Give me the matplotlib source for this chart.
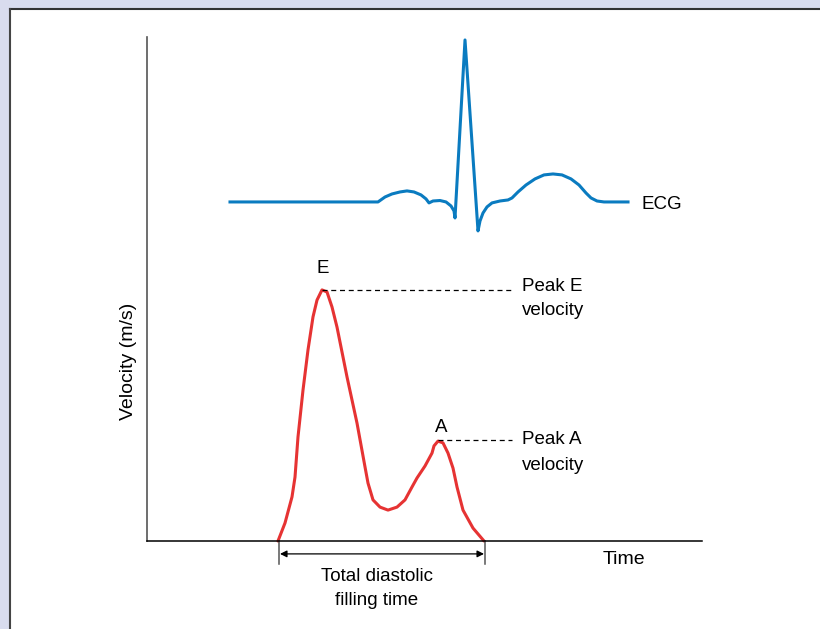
import matplotlib
matplotlib.use("Agg")
import matplotlib.pyplot as plt
from matplotlib.patches import Rectangle
from matplotlib.lines import Line2D

plt.rcParams['font.family'] = ['Liberation Sans', 'DejaVu Sans']

# transmitral Doppler velocity (time in ms, velocity in m/s)
vel_t = [131, 138, 145, 148, 151, 156, 161, 166, 170, 175, 180, 185, 190, 200,
         210, 218, 221, 226, 233, 241, 250, 258, 265, 270, 278, 285, 287, 291,
         296, 301, 306, 310, 316, 326, 337]
vel_v = [0.0, 0.06, 0.147, 0.213, 0.347, 0.503, 0.637, 0.747, 0.803, 0.837,
         0.83, 0.78, 0.713, 0.547, 0.393, 0.247, 0.193, 0.137, 0.113, 0.103,
         0.113, 0.137, 0.18, 0.21, 0.25, 0.293, 0.317, 0.333, 0.327, 0.293,
         0.243, 0.18, 0.103, 0.043, 0.0]

# ECG trace (time in ms, mV)
ecg_t = [83, 231, 238, 245, 253, 260, 267, 274, 279, 282, 286, 293, 299, 304,
         307, 308, 318, 331, 333, 336, 340, 345, 353, 361, 365, 371, 379, 388,
         397, 406, 415, 424, 432, 439, 444, 450, 457, 481]
ecg_mv = [0, 0, 0.031, 0.05, 0.0625, 0.069, 0.0625, 0.044, 0.019, -0.006,
          0.006, 0.009, 0, -0.025, -0.056, -0.1, 1.0125, -0.181, -0.119,
          -0.069, -0.031, -0.006, 0.006, 0.0125, 0.025, 0.0625, 0.106, 0.144,
          0.169, 0.175, 0.169, 0.144, 0.106, 0.056, 0.025, 0.006, 0.0, 0.0]

peak_e = (175, 0.837)
peak_a = (291, 0.333)
filling_start, filling_end = 132, 338

# 8.2 * 100 rounds down to 819 px, so nudge the size
fig = plt.figure(figsize=(8.2001, 6.2901), dpi=100, facecolor='#D9DCEE')
# white panel running off the right and bottom of the picture
px, py = 10 / 820, 1 - 9 / 629
fig.patches.append(Rectangle((px, 0), 1 - px, py, transform=fig.transFigure,
                             facecolor='white', edgecolor='none', zorder=-5))
fig.lines.append(Line2D([px, 1], [py, py], transform=fig.transFigure,
                        color='#333333', lw=1.5, zorder=-4))
fig.lines.append(Line2D([px, px], [0, py], transform=fig.transFigure,
                        color='#444444', lw=1.5, zorder=-4))

pos = [147 / 820, 88 / 629, 555 / 820, 504 / 629]
ax = fig.add_axes(pos, zorder=2)
ax.set_facecolor('none')
ax.set_xlim(0, 555)
ax.set_ylim(0, 1.68)
for s in ['top', 'right']:
    ax.spines[s].set_visible(False)
ax.spines['left'].set_color('#555555')
ax.spines['left'].set_linewidth(1.2)
ax.spines['bottom'].set_color('black')
ax.spines['bottom'].set_linewidth(1.1)
ax.set_xticks([])
ax.set_yticks([])

ax.plot(vel_t, vel_v, color='#E63333', lw=2.2, solid_capstyle='round',
        solid_joinstyle='round', clip_on=False)

# ECG on its own invisible axes
ax2 = fig.add_axes(pos, zorder=3)
ax2.set_facecolor('none')
ax2.set_xlim(0, 555)
ax2.set_ylim(-2.119, 1.031)
ax2.axis('off')
ax2.plot(ecg_t, ecg_mv, color='#0A7BC0', lw=2.2, solid_joinstyle='round',
         clip_on=False)
ax2.text(494, -0.015, 'ECG', fontsize=13.5, ha='left', va='center')

fs = 13.5
# peak E
ax.text(peak_e[0] + 1, 0.91, 'E', fontsize=fs, ha='center', va='center')
ax.plot([peak_e[0], 365], [peak_e[1], peak_e[1]], color='black', lw=0.9,
        ls=(0, (4, 3)))
ax.text(375, 0.85, 'Peak E', fontsize=fs, ha='left', va='center')
ax.text(375, 0.767, 'velocity', fontsize=fs, ha='left', va='center')

# peak A
ax.text(peak_a[0] + 3, 0.38, 'A', fontsize=fs, ha='center', va='center')
ax.plot([peak_a[0], 365], [0.337, 0.337], color='black', lw=0.9,
        ls=(0, (4, 3)))
ax.text(375, 0.34, 'Peak A', fontsize=fs, ha='left', va='center')
ax.text(375, 0.253, 'velocity', fontsize=fs, ha='left', va='center')

# total diastolic filling time
for xt in [filling_start, filling_end]:
    ax.plot([xt, xt], [0, -0.077], color='#555555', lw=1.1, clip_on=False)
ax.annotate('', xy=(filling_start + 1, -0.043), xytext=(filling_end - 1, -0.043),
            arrowprops=dict(arrowstyle='<|-|>', color='black', lw=0.9,
                            mutation_scale=10, shrinkA=0, shrinkB=0),
            annotation_clip=False)
ax.text((filling_start + filling_end) / 2 - 5, -0.117, 'Total diastolic',
        fontsize=fs, ha='center', va='center')
ax.text((filling_start + filling_end) / 2 - 5, -0.197, 'filling time',
        fontsize=fs, ha='center', va='center')

ax.text(477, -0.06, 'Time', fontsize=14, ha='center', va='center')
ax.text(-19, 0.6, 'Velocity (m/s)', fontsize=14, rotation=90,
        ha='center', va='center')

fig.savefig('out.png', dpi=100, facecolor=fig.get_facecolor())
